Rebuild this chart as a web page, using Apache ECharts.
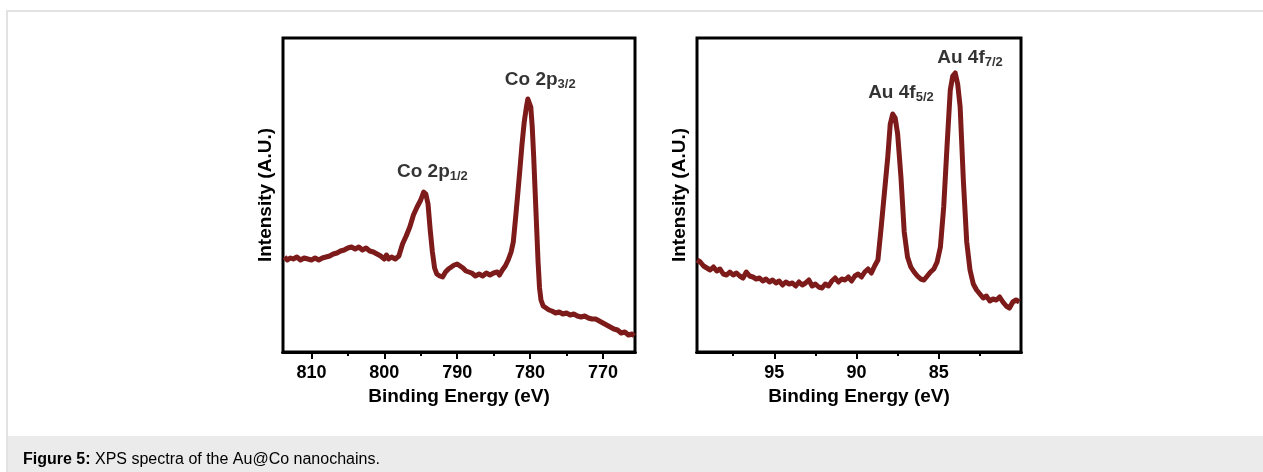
<!DOCTYPE html>
<html>
<head>
<meta charset="utf-8">
<script src="https://cdn.jsdelivr.net/npm/echarts@6/dist/echarts.min.js"></script>
<style>
  html, body { margin: 0; padding: 0; background: #fff; }
  #chart { width: 1263px; height: 472px; }
</style>
</head>
<body>
<div id="chart"></div>
<script>
// Co 2p spectrum: binding energy (eV) and intensity (A.U.)
const coEnergy = [
  813.7, 813.3, 812.9, 812.5, 812.0, 811.5, 811.0, 810.5, 810.0, 809.5, 809.0, 808.5, 808.0, 807.5, 807.0,
  806.5, 806.0, 805.5, 805.0, 804.5, 804.0, 803.5, 803.0, 802.5, 802.0, 801.5, 801.0, 800.5, 800.0, 799.7,
  799.4, 799.0, 798.5, 798.0, 797.5, 797.0, 796.5, 796.0, 795.5, 795.0, 794.6, 794.3, 794.0, 793.7, 793.4,
  793.1, 792.8, 792.4, 792.0, 791.6, 791.2, 790.8, 790.4, 790.0, 789.6, 789.2, 788.8, 788.4, 788.0, 787.5,
  787.0, 786.5, 786.0, 785.5, 785.0, 784.5, 784.2, 783.8, 783.4, 783.0, 782.6, 782.3, 782.0, 781.7, 781.4,
  781.1, 780.8, 780.5, 780.3, 780.1, 779.9, 779.7, 779.5, 779.3, 779.1, 778.9, 778.7, 778.5, 778.2, 777.8,
  777.4, 777.0, 776.5, 776.0, 775.5, 775.0, 774.5, 774.0, 773.5, 773.0, 772.5, 772.0, 771.5, 771.0, 770.5,
  770.0, 769.5, 769.0, 768.5, 768.0, 767.5, 767.0, 766.5, 766.0, 765.7
]
const coIntensity = [
  95, 92, 94, 93, 95, 92, 94, 93, 92, 94, 92, 94, 95, 96, 98,
  99, 101, 102, 104, 105, 103, 105, 102, 104, 101, 100, 98, 96, 93, 97,
  93, 95, 93, 96, 108, 116, 125, 137, 145, 152, 160, 158, 148, 122, 100,
  84, 78, 76, 75, 80, 83, 85, 87, 88, 86, 84, 81, 80, 79, 76,
  78, 76, 79, 77, 79, 80, 77, 82, 86, 92, 100, 110, 133, 157, 182,
  208, 230, 245, 253, 253, 245, 225, 195, 160, 125, 90, 64, 52, 46, 44,
  42, 41, 39, 40, 38, 39, 37, 38, 36, 35, 36, 34, 33, 33, 31,
  29, 27, 25, 23, 22, 19, 20, 17, 18, 16
]

// Au 4f spectrum
const auEnergy = [
  99.7, 99.5, 99.3, 99.1, 98.9, 98.7, 98.5, 98.3, 98.1, 97.9, 97.7, 97.5, 97.3, 97.1, 96.9,
  96.7, 96.5, 96.3, 96.1, 95.9, 95.7, 95.5, 95.3, 95.1, 94.9, 94.7, 94.5, 94.3, 94.1, 93.9,
  93.7, 93.5, 93.3, 93.1, 92.9, 92.7, 92.5, 92.3, 92.1, 91.9, 91.7, 91.5, 91.3, 91.1, 90.9,
  90.7, 90.5, 90.3, 90.1, 89.9, 89.7, 89.5, 89.3, 89.1, 88.9, 88.7, 88.5, 88.3, 88.1, 87.95,
  87.8, 87.65, 87.5, 87.3, 87.1, 86.9, 86.7, 86.5, 86.3, 86.1, 85.9, 85.7, 85.5, 85.3, 85.1,
  84.9, 84.7, 84.5, 84.3, 84.15, 84.0, 83.85, 83.7, 83.5, 83.3, 83.1, 82.9, 82.7, 82.5, 82.3,
  82.1, 81.9, 81.7, 81.5, 81.3, 81.1, 80.9, 80.7, 80.5, 80.3, 80.1
]
const auIntensity = [
  92, 90, 86, 84, 82, 85, 81, 83, 78, 77, 80, 77, 79, 76, 74,
  80, 76, 75, 73, 74, 71, 73, 70, 72, 69, 71, 67, 70, 68, 69,
  66, 70, 67, 69, 72, 66, 68, 65, 64, 68, 66, 71, 74, 70, 73,
  72, 75, 71, 76, 78, 75, 80, 83, 79, 86, 92, 125, 160, 195, 228,
  238, 234, 218, 175, 120, 95, 85, 80, 76, 73, 72, 76, 80, 83, 90,
  105, 145, 205, 262, 276, 279, 268, 245, 170, 110, 82, 68, 62, 58, 54,
  56, 51, 53, 52, 55, 50, 46, 44, 50, 52, 50
]

// axis ticks
const coMajorTicks = [810, 800, 790, 780, 770]
const coMinorTicks = [805, 795, 785, 775]
const auMajorTicks = [95, 90, 85]
const auMinorTicks = [97.5, 92.5, 87.5, 82.5]

// peak labels: [main, subscript]
const coPeakNames = [['Co 2p', '1/2'], ['Co 2p', '3/2']]
const auPeakNames = [['Au 4f', '5/2'], ['Au 4f', '7/2']]
// label anchors in data coordinates
const coPeakAt = [[793.4, 180], [778.6, 272]]
const auPeakAt = [[87.3, 259], [83.1, 294]]

const lineColor = '#7d1b1b'
const font = 'Liberation Sans, Arial, sans-serif'

function zip(xs, ys) {
  return xs.map((x, i) => [x, ys[i]])
}

// bottom x axis of one panel; first one plots + labels, the others carry ticks
function xAxis(gridIndex, min, max, opts) {
  return Object.assign({
    type: 'value',
    gridIndex: gridIndex,
    position: 'bottom',
    min: min,
    max: max,
    inverse: true,
    axisLine: { show: true, lineStyle: { color: '#000', width: 3 } },
    splitLine: { show: false },
    axisTick: { show: false },
    axisLabel: { show: false },
  }, opts)
}

function xAxes(gridIndex, min, max, major, minor) {
  return [
    xAxis(gridIndex, min, max, {
      name: 'Binding Energy (eV)',
      nameLocation: 'middle',
      nameGap: 25,
      nameTextStyle: { color: '#000', fontSize: 19, fontWeight: 'bold', fontFamily: font },
      axisLabel: {
        show: true,
        customValues: major,
        margin: 14,
        lineHeight: 14,
        color: '#000',
        fontSize: 18,
        fontWeight: 'bold',
        fontFamily: font,
      },
    }),
    xAxis(gridIndex, min, max, {
      axisTick: { show: true, customValues: major, length: 7, lineStyle: { color: '#000', width: 2 } },
    }),
    xAxis(gridIndex, min, max, {
      axisTick: { show: true, customValues: minor, length: 4, lineStyle: { color: '#000', width: 2 } },
    }),
  ]
}

function yAxis(gridIndex) {
  return {
    type: 'value',
    gridIndex: gridIndex,
    min: 0,
    max: 314,
    name: 'Intensity (A.U.)',
    nameLocation: 'middle',
    nameGap: 8,
    nameTextStyle: { color: '#000', fontSize: 19, fontWeight: 'bold', fontFamily: font },
    axisLine: { show: false },
    axisTick: { show: false },
    axisLabel: { show: false },
    splitLine: { show: false },
  }
}

function peakLabels(xAxisIndex, yAxisIndex, names, at) {
  return {
    type: 'scatter',
    xAxisIndex: xAxisIndex,
    yAxisIndex: yAxisIndex,
    symbolSize: 0,
    silent: true,
    z: 5,
    data: at.map((p, i) => ({ value: p, main: names[i][0], sub: names[i][1] })),
    label: {
      show: true,
      position: 'inside',
      formatter: (p) => '{m|' + p.data.main + '}{s|' + p.data.sub + '}',
      rich: {
        m: { fontSize: 19, fontWeight: 'bold', color: '#000', fontFamily: font, lineHeight: 22 },
        s: { fontSize: 13, fontWeight: 'bold', color: '#000', fontFamily: font, verticalAlign: 'bottom', lineHeight: 22, padding: [8, 0, 0, 0] },
      },
    },
  }
}

const chart = echarts.init(document.getElementById('chart'))

const option = {
  animation: false,
  backgroundColor: '#fff',
  grid: [
    { left: 283, top: 38, width: 352, height: 314, show: true, borderColor: '#000', borderWidth: 3 },
    { left: 697, top: 38, width: 324, height: 314, show: true, borderColor: '#000', borderWidth: 3 },
  ],
  xAxis: [
    ...xAxes(0, 765.6, 813.9, coMajorTicks, coMinorTicks),
    ...xAxes(1, 80, 99.7, auMajorTicks, auMinorTicks),
  ],
  yAxis: [yAxis(0), yAxis(1)],
  series: [
    {
      type: 'line',
      xAxisIndex: 0,
      yAxisIndex: 0,
      data: zip(coEnergy, coIntensity),
      showSymbol: false,
      lineStyle: { color: lineColor, width: 5, join: 'round' },
    },
    {
      type: 'line',
      xAxisIndex: 3,
      yAxisIndex: 1,
      data: zip(auEnergy, auIntensity),
      showSymbol: false,
      lineStyle: { color: lineColor, width: 5, join: 'round' },
    },
    peakLabels(0, 0, coPeakNames, coPeakAt),
    peakLabels(3, 1, auPeakNames, auPeakAt),
  ],
  graphic: [
    // outer frame
    { type: 'rect', shape: { x: 7, y: 11, width: 1262, height: 470 }, style: { fill: null, stroke: '#e2e2e2', lineWidth: 2 }, silent: true },
    // caption band
    { type: 'rect', shape: { x: 8, y: 436, width: 1260, height: 40 }, style: { fill: '#ebebeb' }, silent: true },
    {
      type: 'text',
      x: 23,
      y: 460,
      style: {
        text: '{b|Figure 5:} XPS spectra of the Au@Co nanochains.',
        font: '16px ' + font,
        fill: '#000',
        verticalAlign: 'middle',
        rich: { b: { fontWeight: 'bold', fontSize: 16, fontFamily: font, fill: '#000' } },
      },
      silent: true,
    },
  ],
}
chart.setOption(option)
</script>
</body>
</html>
